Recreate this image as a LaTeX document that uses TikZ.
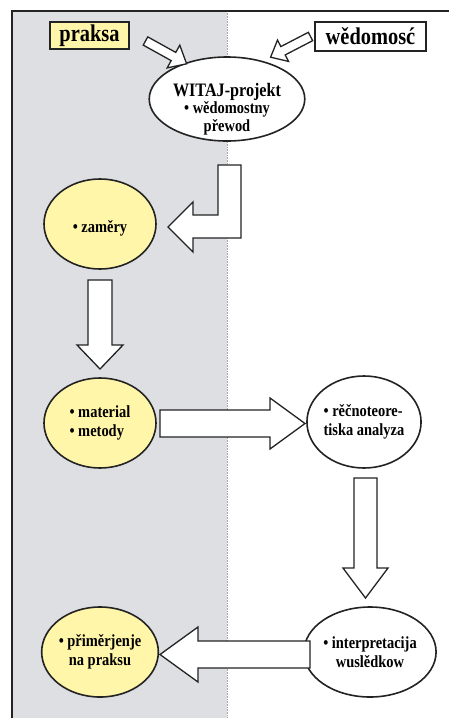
\documentclass[tikz,border=0pt]{standalone}
\usepackage{fontspec}
\setmainfont[FakeStretch=0.85]{Liberation Serif}
\usetikzlibrary{shapes.geometric,calc}
\definecolor{panelgray}{RGB}{222,223,227}
\definecolor{paleyellow}{RGB}{255,246,170}
\definecolor{inkc}{RGB}{35,35,35}
\newcommand{\blockarrow}[5]{%
  \coordinate (ba-h) at ($(#2)!#5!(#1)$);
  \draw[blk] ($(#1)!#3!90:(#2)$) -- ($(ba-h)!#3!90:(#2)$) -- ($(ba-h)!#4!90:(#2)$)
    -- (#2) -- ($(ba-h)!#4!-90:(#2)$) -- ($(ba-h)!#3!-90:(#2)$) -- ($(#1)!#3!-90:(#2)$) -- cycle;
}
\begin{document}
\begin{tikzpicture}[x=1pt,y=-1pt,
  oval/.style={ellipse, draw=inkc, line width=1.6pt, minimum width=112pt, minimum height=90pt,
    inner sep=0pt, font=\bfseries\fontsize{17}{19.5}\selectfont},
  yel/.style={fill=paleyellow},
  wht/.style={fill=white},
  labelbox/.style={draw=inkc, line width=1.6pt, font=\bfseries\fontsize{24}{26}\selectfont, inner sep=0pt},
  blk/.style={draw=inkc, line width=1.3pt, fill=white, line join=miter}]
\useasboundingbox (0,0) rectangle (449,718);
\fill[panelgray] (12,11) rectangle (227,718);
\draw[gray!70, densely dotted, line width=0.6pt] (227,11) -- (227,718);
\draw[inkc, line width=1.5pt] (12,718) -- (12,11) -- (449,11);

% boxes
\node[labelbox, yel, minimum width=79pt, minimum height=27pt] (praksa) at (89.5,35.5) {praksa};
\node[labelbox, wht, minimum width=111pt, minimum height=29pt] (wed) at (370.5,36.5) {wědomosć};

% ellipses
\node[oval, wht, minimum width=118pt, minimum height=84pt] (witaj) at (227,99)
  {\raisebox{-10pt}[\height][\depth]{\parbox{110pt}{\centering{\fontsize{19}{18}\selectfont WITAJ-projekt}\\[0pt]\fontsize{17}{17.5}\selectfont • wědomostny\\[0.5pt] přewod}}};
\node[oval, yel] (zamery) at (100,224) {\raisebox{-4pt}[\height][\depth]{• zaměry}};
\node[oval, yel, align=left] (material) at (100,423) {• material\\ • metody};
\node[oval, wht, minimum height=92pt, align=left] (recno) at (364,422) {• rěčnoteore-\\ tiska analyza};
\node[oval, wht, minimum width=111pt, align=center] (interp) at (370,652) {• interpretacija\\ wuslědkow};
\node[oval, yel, align=center] (primer) at (100,652) {• přiměrjenje\\ na praksu};

% arrow end points
\coordinate (a1s) at (145.5,41);   \coordinate (a1e) at (186.6,63.8);
\coordinate (a2s) at (310.5,36.5); \coordinate (a2e) at (270.6,57.2);
\coordinate (a3s) at (100,280);    \coordinate (a3e) at (100,369);
\coordinate (a4s) at (160,423.5);  \coordinate (a4e) at (305,423.5);
\coordinate (a5s) at (365.5,478);  \coordinate (a5e) at (365.5,598);
\coordinate (a6s) at (310,654.5);  \coordinate (a6e) at (160,654.5);

\blockarrow{a1s}{a1e}{4.7pt}{13pt}{15pt}
\blockarrow{a2s}{a2e}{4.7pt}{12pt}{14pt}
\blockarrow{a3s}{a3e}{12pt}{23pt}{24pt}
\blockarrow{a4s}{a4e}{13.5pt}{25.5pt}{35pt}
\blockarrow{a5s}{a5e}{11.5pt}{22.5pt}{30pt}
\blockarrow{a6s}{a6e}{13.5pt}{27.5pt}{38pt}

% bent arrow from WITAJ to zamery
\draw[blk] (218,165) -- (241,165) -- (241,238) -- (193,238) -- (193,252) -- (168,227)
  -- (193,202) -- (193,215) -- (218,215) -- cycle;
\end{tikzpicture}
\end{document}
